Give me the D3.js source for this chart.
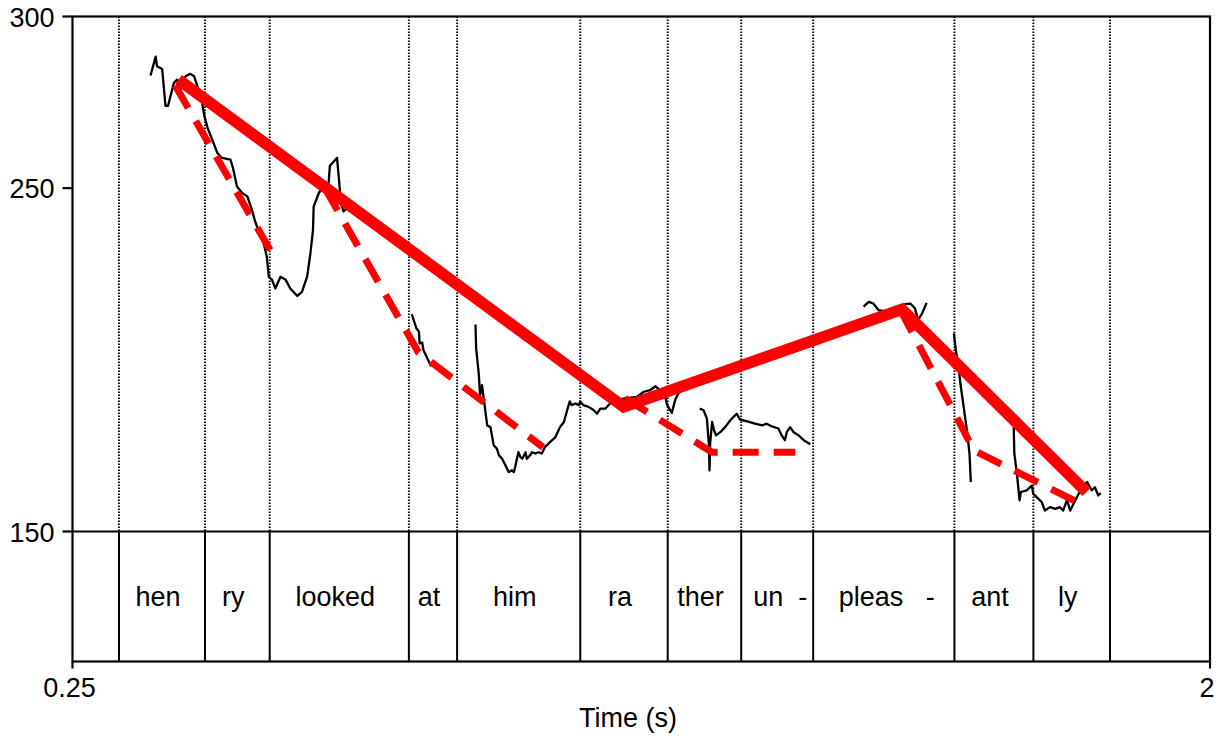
<!DOCTYPE html>
<html>
<head>
<meta charset="utf-8">
<script src="https://cdn.jsdelivr.net/npm/d3@7"></script>
<style>
  body { margin: 0; background: #fff; }
  text { font-family: "Liberation Sans", Arial, Helvetica, sans-serif; }
</style>
</head>
<body>
<script>
// Syllable boundaries (s) and labels for the text tier
const boundaries = [0.3215, 0.4538, 0.5534, 0.7675, 0.8417, 1.0312, 1.1657, 1.2788, 1.3895, 1.6068, 1.7283, 1.8462];
const syllables = ['hen', 'ry', 'looked', 'at', 'him', 'ra', 'ther', 'un  -', 'pleas   -', 'ant', 'ly'];

// Pitch contour (time s, F0 Hz), one array per voiced stretch
const pitch1 = [[0.370,282.8],[0.378,288.3],[0.380,285.5],[0.388,284.7],[0.393,274.0],[0.397,274.0],[0.406,280.7],[0.411,281.6],[0.416,278.7],[0.424,282.6],[0.431,283.3],[0.437,282.6],[0.444,278.7],[0.449,275.3],[0.453,270.9],[0.458,267.5],[0.465,264.1],[0.473,260.2],[0.480,258.8],[0.493,258.3],[0.497,255.8],[0.503,250.5],[0.511,248.6],[0.519,247.6],[0.526,243.7],[0.531,240.3],[0.537,237.3],[0.544,234.0],[0.549,230.0],[0.552,224.2],[0.557,223.3],[0.562,220.8],[0.570,224.2],[0.578,223.3],[0.585,220.8],[0.596,218.6],[0.603,219.8],[0.611,224.2],[0.616,231.0],[0.620,237.8],[0.621,244.6],[0.629,248.6],[0.636,250.5],[0.644,251.5],[0.646,256.5],[0.657,258.8],[0.660,252.4],[0.663,245.6],[0.667,243.2],[0.675,244.6]];
const pitch2 = [[0.772,213.3],[0.779,209.2],[0.783,208.2],[0.784,204.8],[0.788,205.0],[0.790,202.8],[0.801,198.4],[0.810,198.1]];
const pitch3 = [[0.870,210.3],[0.871,203.3],[0.875,196.0],[0.877,189.7],[0.880,192.6],[0.885,185.3],[0.888,180.9],[0.893,180.4],[0.898,175.1],[0.903,174.1],[0.906,172.2],[0.911,171.2],[0.916,169.3],[0.921,167.3],[0.926,167.8],[0.929,167.3],[0.931,168.8],[0.936,173.1],[0.939,171.7],[0.942,171.2],[0.947,173.1],[0.949,171.2],[0.954,172.2],[0.957,173.1],[0.962,172.7],[0.967,173.1],[0.972,172.7],[0.977,174.6],[0.985,176.1],[0.993,177.5],[1.000,180.4],[1.006,181.9],[1.011,185.3],[1.015,187.9],[1.018,186.8],[1.024,187.3],[1.029,186.8],[1.031,187.9],[1.036,186.8],[1.044,186.3],[1.052,185.3],[1.057,184.3],[1.062,185.8],[1.070,185.8],[1.077,187.3],[1.082,188.2],[1.100,188.8],[1.118,189.2],[1.129,190.7],[1.139,191.2],[1.147,192.3],[1.154,191.2],[1.162,189.2],[1.165,186.8],[1.172,184.5],[1.177,188.2],[1.182,190.2],[1.185,190.7]];
const pitch4 = [[1.215,185.8],[1.221,185.3],[1.226,182.9],[1.229,175.6],[1.230,167.8],[1.231,175.6],[1.234,181.9],[1.237,179.5],[1.240,178.0],[1.247,179.0],[1.254,180.4],[1.262,182.4],[1.267,183.4],[1.272,184.3],[1.277,182.6],[1.288,182.1],[1.300,181.4],[1.311,180.9],[1.318,181.4],[1.326,180.6],[1.336,180.0],[1.341,178.0],[1.346,176.6],[1.349,179.0],[1.354,180.4],[1.359,179.0],[1.367,178.0],[1.375,176.6],[1.385,175.4]];
const pitch5 = [[1.467,215.5],[1.475,216.9],[1.482,216.4],[1.490,214.5],[1.508,213.9],[1.531,216.2],[1.539,216.4],[1.546,215.0],[1.551,211.6],[1.557,213.5],[1.564,216.6]];
const pitch6 = [[1.606,207.7],[1.609,202.8],[1.613,198.0],[1.616,193.1],[1.621,186.3],[1.626,179.5],[1.630,172.7],[1.632,164.4]];
const pitch7 = [[1.698,180.4],[1.699,172.7],[1.703,166.8],[1.707,159.1],[1.709,161.5],[1.718,162.0],[1.726,163.4],[1.728,161.0],[1.736,159.5],[1.741,158.6],[1.746,156.1],[1.754,157.1],[1.762,156.6],[1.769,157.1],[1.774,156.1],[1.780,159.1],[1.785,156.1],[1.790,158.1],[1.798,161.0],[1.805,163.4],[1.811,164.4],[1.818,162.0],[1.823,162.9],[1.828,160.5],[1.832,161.2]];
const pitchRuns = [pitch1, pitch2, pitch3, pitch4, pitch5, pitch6, pitch7];

// Stylised contours: broad (solid) and local (dashed)
const broadLine = [[0.413,281.6],[1.098,186.3],[1.526,214.7],[1.810,161.5]];
const localLines = [
  [[0.408,279.9],[0.554,232.0]],
  [[0.638,250.1],[0.782,202.2],[0.974,174.5]],
  [[1.100,188.8],[1.234,173.1],[1.362,173.1]],
  [[1.523,214.8],[1.637,173.6],[1.803,157.9]]
];

const timeTicks = [0.25, 2];
const hzTicks = [150, 250, 300];

let width = 1219, height = 737;
let frameBox = { left: 72.5, right: 1210, top: 16.5, plotBottom: 531.5, tierBottom: 661.5 };

let svg = d3.select('body')
  .append('svg')
  .attr('width', width)
  .attr('height', height);

let xScale = d3.scaleLinear().domain([0.25, 2]).range([frameBox.left, frameBox.right]);
let yScale = d3.scaleLinear().domain([150, 300]).range([frameBox.plotBottom, frameBox.top]);

// Dotted boundary lines in pitch panel
svg.append('g')
  .selectAll('line')
  .data(boundaries)
  .enter()
  .append('line')
  .attr('x1', d => xScale(d)).attr('x2', d => xScale(d))
  .attr('y1', frameBox.top).attr('y2', frameBox.plotBottom)
  .attr('stroke', '#000')
  .attr('stroke-width', 1.9)
  .attr('stroke-dasharray', '1.6,1.4');

// Solid boundary lines in text tier
svg.append('g')
  .selectAll('line')
  .data(boundaries)
  .enter()
  .append('line')
  .attr('x1', d => xScale(d)).attr('x2', d => xScale(d))
  .attr('y1', frameBox.plotBottom).attr('y2', frameBox.tierBottom)
  .attr('stroke', '#000')
  .attr('stroke-width', 2);

// Syllable labels
let intervals = syllables.map((s, i) => ({ label: s, t0: boundaries[i], t1: boundaries[i + 1] }));
svg.append('g')
  .selectAll('text')
  .data(intervals)
  .enter()
  .append('text')
  .attr('x', d => (xScale(d.t0) + xScale(d.t1)) / 2 + (d.label.includes('-') ? 3 : -4))
  .attr('y', 606)
  .attr('text-anchor', 'middle')
  .style('white-space', 'pre')
  .attr('font-size', 27)
  .text(d => d.label);

// Pitch contour
let line = d3.line().x(d => xScale(d[0])).y(d => yScale(d[1]));

svg.append('g')
  .selectAll('path')
  .data(pitchRuns)
  .enter()
  .append('path')
  .attr('d', line)
  .attr('fill', 'none')
  .attr('stroke', '#000')
  .attr('stroke-width', 2.3)
  .attr('stroke-linejoin', 'round');

svg.append('g')
  .selectAll('path')
  .data(localLines)
  .enter()
  .append('path')
  .attr('d', line)
  .attr('fill', 'none')
  .attr('stroke', '#ff0000')
  .attr('stroke-width', 7)
  .attr('stroke-dasharray', '26,15');

svg.append('path')
  .attr('d', line(broadLine))
  .attr('fill', 'none')
  .attr('stroke', '#ff0000')
  .attr('stroke-width', 11.5)
  .attr('stroke-linejoin', 'miter');

// Frame
let frame = svg.append('g').attr('stroke', '#000').attr('stroke-width', 2.2).attr('fill', 'none');
frame.append('rect')
  .attr('x', frameBox.left).attr('y', frameBox.top)
  .attr('width', frameBox.right - frameBox.left)
  .attr('height', frameBox.tierBottom - frameBox.top);
frame.append('line')
  .attr('x1', frameBox.left).attr('x2', frameBox.right)
  .attr('y1', frameBox.plotBottom).attr('y2', frameBox.plotBottom);

// Y ticks and labels
let yAxis = svg.append('g');
yAxis.selectAll('line')
  .data(hzTicks)
  .enter()
  .append('line')
  .attr('x1', frameBox.left - 10).attr('x2', frameBox.left)
  .attr('y1', d => yScale(d)).attr('y2', d => yScale(d))
  .attr('stroke', '#000').attr('stroke-width', 2.2);
yAxis.selectAll('text')
  .data(hzTicks)
  .enter()
  .append('text')
  .attr('x', frameBox.left - 18)
  .attr('y', d => yScale(d) + 10)
  .attr('text-anchor', 'end')
  .attr('font-size', 27)
  .text(d => d);

// X ticks and labels
let xAxis = svg.append('g');
xAxis.selectAll('line')
  .data(timeTicks)
  .enter()
  .append('line')
  .attr('x1', d => xScale(d)).attr('x2', d => xScale(d))
  .attr('y1', frameBox.tierBottom).attr('y2', frameBox.tierBottom + 7)
  .attr('stroke', '#000').attr('stroke-width', 2.2);
xAxis.selectAll('text')
  .data(timeTicks)
  .enter()
  .append('text')
  .attr('x', d => xScale(d) - 3)
  .attr('y', 697)
  .attr('text-anchor', 'middle')
  .attr('font-size', 27)
  .text(d => d);

svg.append('text')
  .attr('x', 628)
  .attr('y', 727)
  .attr('text-anchor', 'middle')
  .attr('font-size', 27)
  .text('Time (s)');
</script>
</body>
</html>
